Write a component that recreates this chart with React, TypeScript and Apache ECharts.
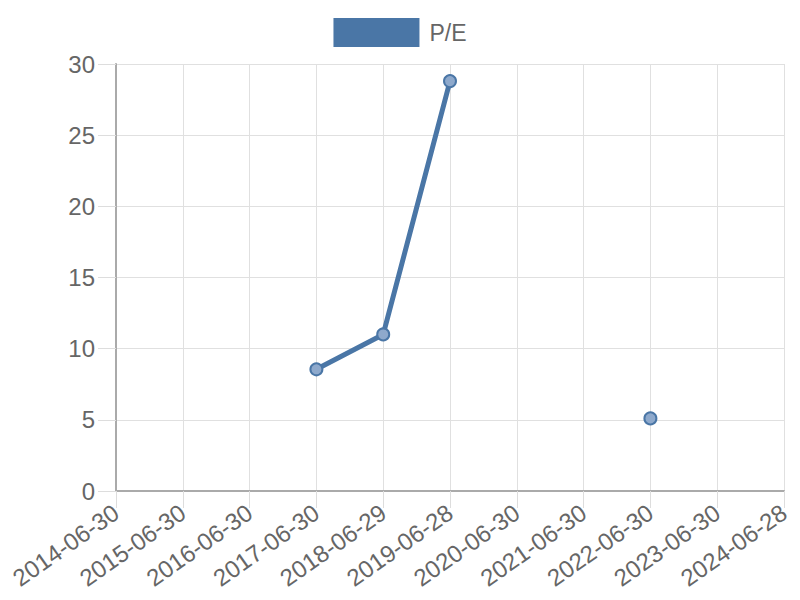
import React, { useEffect, useRef } from "react";
import * as echarts from "echarts";

const categories = [
  "2014-06-30", "2015-06-30", "2016-06-30", "2017-06-30", "2018-06-29",
  "2019-06-28", "2020-06-30", "2021-06-30", "2022-06-30", "2023-06-30", "2024-06-28",
];
const peValues: (number | null)[] = [null, null, null, 8.55, 11.0, 28.8, null, null, 5.1, null, null];
const seriesName = "P/E";

export default function App() {
  const ref = useRef<HTMLDivElement>(null);
  useEffect(() => {
    if (!ref.current) return;
    document.body.style.margin = "0";
    const chart = echarts.init(ref.current, undefined, { renderer: "svg" });
    const font = "'Liberation Sans', Arial, sans-serif";
    const lineColor = "#4a76a6";
    chart.setOption({
      animation: false,
      textStyle: { fontFamily: font },
      legend: {
        top: 13,
        left: "center",
        icon: "rect",
        itemWidth: 86,
        itemHeight: 29,
        itemStyle: { color: lineColor, borderWidth: 0 },
        textStyle: { fontSize: 23, color: "#666", fontFamily: font, padding: [0, 0, 0, 5] },
        data: [seriesName],
      },
      grid: { left: 116, right: 16, top: 64, bottom: 109, containLabel: false },
      xAxis: {
        type: "category",
        data: categories,
        boundaryGap: false,
        axisLine: { lineStyle: { color: "#aaa", width: 2 } },
        axisTick: { show: true, length: 17, lineStyle: { color: "#ddd" } },
        axisLabel: { rotate: 35, fontSize: 24, color: "#666", fontFamily: font, margin: 19, interval: 0 },
        splitLine: { show: true, lineStyle: { color: "#e0e0e0", width: 1 } },
      },
      yAxis: {
        type: "value",
        min: 0,
        max: 30,
        interval: 5,
        axisLine: { show: true, lineStyle: { color: "#aaa", width: 2 } },
        axisTick: { show: true, length: 18, lineStyle: { color: "#ddd" } },
        axisLabel: { fontSize: 24, color: "#666", fontFamily: font, margin: 21 },
        splitLine: { show: true, lineStyle: { color: "#e0e0e0", width: 1 } },
      },
      series: [
        {
          name: seriesName,
          type: "line",
          data: peValues,
          connectNulls: false,
          showAllSymbol: true,
          symbol: "circle",
          symbolSize: 12,
          lineStyle: { color: lineColor, width: 5 },
          itemStyle: { color: "#8ea9cc", borderColor: lineColor, borderWidth: 2 },
          color: lineColor,
        },
      ],
    });
    return () => chart.dispose();
  }, []);
  return <div ref={ref} style={{ width: 800, height: 600 }} />;
}
